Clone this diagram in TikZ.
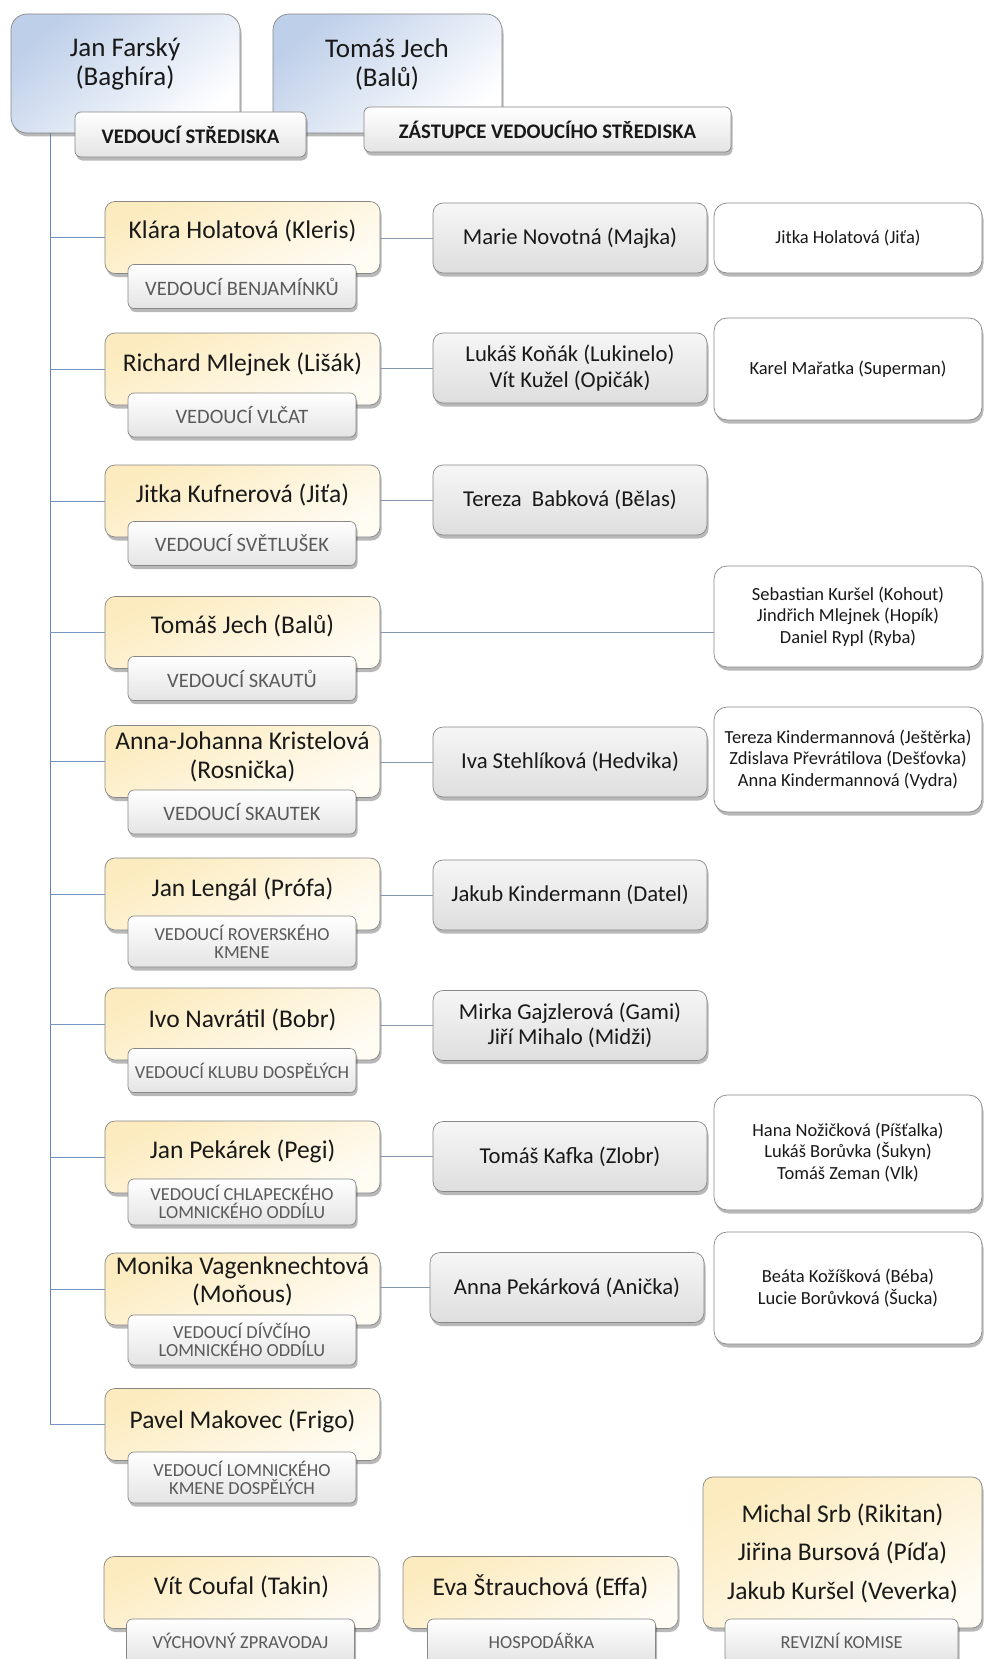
\documentclass[tikz,border=0pt]{standalone}
\usepackage{fontspec}
\setmainfont{Carlito}
\usetikzlibrary{shadows}
\definecolor{edgec}{RGB}{135,135,135}
\definecolor{yelltop}{RGB}{252,235,190}
\definecolor{yellbot}{RGB}{255,252,244}
\definecolor{graytop}{RGB}{246,246,246}
\definecolor{graybot}{RGB}{222,222,222}
\definecolor{lblbot}{RGB}{228,228,228}
\definecolor{lbltext}{RGB}{90,90,90}
\definecolor{bluetop}{RGB}{190,207,233}
\definecolor{treec}{RGB}{95,135,190}
\definecolor{branchc}{RGB}{120,150,195}
\definecolor{linkc}{RGB}{135,150,172}
\definecolor{nametext}{RGB}{25,25,25}
\newcommand\nmfont{\fontsize{25.5}{28.5}\selectfont}
\newcommand\gyfont{\fontsize{22.7}{25.5}\selectfont}
\newcommand\lbfont{\fontsize{18.4}{18}\selectfont}
\newcommand\lbbig{\fontsize{20.5}{20}\selectfont}
\newcommand\wfont{\fontsize{18.5}{21.5}\selectfont}
\newcommand\tlfont{\bfseries\fontsize{20.7}{22}\selectfont}
\newcommand\topfont{\fontsize{27}{29}\selectfont}
\begin{document}
\begin{tikzpicture}[x=1pt,y=-1pt,
  common/.style={draw=edgec, line width=0.7pt, inner sep=0pt, align=center,
    drop shadow={shadow xshift=1.5pt, shadow yshift=-3.5pt, opacity=0.28, fill=black}},
  ybox/.style={common, rounded corners=10pt, top color=yelltop, bottom color=yellbot,
    shading angle=25, minimum width=275pt, minimum height=72pt},
  lbl/.style={common, rounded corners=6pt, top color=white, bottom color=lblbot,
    minimum width=228pt, minimum height=44pt, font=\lbfont, text=lbltext},
  gbox/.style={common, rounded corners=10pt, top color=graytop, bottom color=graybot,
    minimum width=274pt, minimum height=70pt, font=\gyfont, text=nametext},
  wbox/.style={common, rounded corners=13pt, fill=white, minimum width=268pt,
    font=\wfont, text=nametext},
  bbox/.style={common, rounded corners=16pt, top color=bluetop, bottom color=white,
    shading angle=40, minimum width=229pt, minimum height=119pt},
  toplbl/.style={common, rounded corners=6pt, top color=white, bottom color=lblbot,
    minimum height=45pt, font=\tlfont, text=nametext},
  nm/.style={font=\nmfont, align=center, inner sep=0pt, text=nametext},
  tree/.style={draw=treec, line width=1pt},
  branch/.style={draw=branchc, line width=1pt},
  link/.style={draw=linkc, line width=1pt}]
\useasboundingbox (0,0) rectangle (984,1659);
\fill[white] (0,0) rectangle (984,1659);

% ---------- top ----------
\node[bbox] (farsky) at (125.5,73.5) {};
\node[bbox] (jech) at (387.5,73.5) {};
\node[nm, font=\topfont] (farskyt) at (125,64) {Jan Farský\\(Baghíra)};
\node[nm, font=\topfont] (jecht) at (387,64) {Tomáš Jech\\(Balů)};
\coordinate (trunkend) at (50,1424.5);
\draw[tree] (farsky.south -| trunkend) -- (trunkend);
\node[toplbl, minimum width=231pt] (vs) at (190.5,134.5) {VEDOUCÍ STŘEDISKA};
\node[toplbl, minimum width=367pt] (zvs) at (547.5,129.5) {ZÁSTUPCE VEDOUCÍHO STŘEDISKA};

% ---------- yellow leaders ----------
\node[ybox] (r1) at (242.5,237.5) {};
\node[ybox] (r2) at (242.5,369) {};
\node[ybox] (r3) at (242.5,501) {};
\node[ybox] (r4) at (242.5,632.5) {};
\node[ybox] (r5) at (242.5,761.5) {};
\node[ybox] (r6) at (242.5,894) {};
\node[ybox] (r7) at (242.5,1024) {};
\node[ybox] (r8) at (242.5,1157) {};
\node[ybox] (r9) at (242.5,1289) {};
\node[ybox] (r10) at (242.5,1424.5) {};

\node[nm] (r1t) at (242.5,231) {Klára Holatová (Kleris)};
\node[nm] (r2t) at (242.5,364) {Richard Mlejnek (Lišák)};
\node[nm] (r3t) at (242.5,495) {Jitka Kufnerová (Jiťa)};
\node[nm] (r4t) at (242.5,626) {Tomáš Jech (Balů)};
\node[nm] (r5t) at (242.5,757) {Anna-Johanna Kristelová\\(Rosnička)};
\node[nm] (r6t) at (242.5,889) {Jan Lengál (Prófa)};
\node[nm] (r7t) at (242.5,1020) {Ivo Navrátil (Bobr)};
\node[nm] (r8t) at (242.5,1151) {Jan Pekárek (Pegi)};
\node[nm] (r9t) at (242.5,1281.5) {Monika Vagenknechtová\\(Moňous)};
\node[nm] (r10t) at (242.5,1421) {Pavel Makovec (Frigo)};

\node[lbl, font=\lbbig] (r1l) at (242,286.5) {VEDOUCÍ BENJAMÍNKŮ};
\node[lbl, font=\lbbig] (r2l) at (242,415) {VEDOUCÍ VLČAT};
\node[lbl, font=\lbbig] (r3l) at (242,543.5) {VEDOUCÍ SVĚTLUŠEK};
\node[lbl, font=\lbbig] (r4l) at (242,678.5) {VEDOUCÍ SKAUTŮ};
\node[lbl, font=\lbbig] (r5l) at (242,812) {VEDOUCÍ SKAUTEK};
\node[lbl, minimum height=51pt] (r6l) at (242,941.5) {VEDOUCÍ ROVERSKÉHO\\KMENE};
\node[lbl] (r7l) at (242,1070.5) {VEDOUCÍ KLUBU DOSPĚLÝCH};
\node[lbl, minimum height=46pt] (r8l) at (242,1202) {VEDOUCÍ CHLAPECKÉHO\\LOMNICKÉHO ODDÍLU};
\node[lbl, minimum height=50pt] (r9l) at (242,1340) {VEDOUCÍ DÍVČÍHO\\LOMNICKÉHO ODDÍLU};
\node[lbl, minimum height=51pt] (r10l) at (242,1477.5) {VEDOUCÍ LOMNICKÉHO\\KMENE DOSPĚLÝCH};

% trunk branches
\foreach \r in {r1,r2,r3,r4,r5,r6,r7,r8,r9}
  \draw[branch] (trunkend |- \r.west) -- (\r.west);
\draw[branch] (trunkend) -- (r10.west);

% ---------- gray column ----------
\node[gbox] (g1) at (570,238) {Marie Novotná (Majka)};
\node[gbox] (g2) at (570,368) {Lukáš Koňák (Lukinelo)\\Vít Kužel (Opičák)};
\node[gbox] (g3) at (570,500) {Tereza\ \ Babková (Bělas)};
\node[gbox] (g5) at (570,762) {Iva Stehlíková (Hedvika)};
\node[gbox] (g6) at (570,895) {Jakub Kindermann (Datel)};
\node[gbox] (g7) at (570,1025.5) {Mirka Gajzlerová (Gami)\\Jiří Mihalo (Midži)};
\node[gbox] (g8) at (570,1156.5) {Tomáš Kafka (Zlobr)};
\node[gbox] (g9) at (567,1287.5) {Anna Pekárková (Anička)};

% ---------- white column ----------
\node[wbox, minimum height=70pt] (w1) at (848,238) {Jitka Holatová (Jiťa)};
\node[wbox, minimum height=102pt] (w2) at (848,369) {Karel Mařatka (Superman)};
\node[wbox, minimum height=101pt] (w4) at (848,616.5) {Sebastian Kuršel (Kohout)\\Jindřich Mlejnek (Hopík)\\Daniel Rypl (Ryba)};
\node[wbox, minimum height=105pt] (w5) at (848,759.5) {Tereza Kindermannová (Ještěrka)\\Zdislava Převrátilova (Dešťovka)\\Anna Kindermannová (Vydra)};
\node[wbox, minimum height=115pt] (w8) at (848,1152.5) {Hana Nožičková (Píšťalka)\\Lukáš Borůvka (Šukyn)\\Tomáš Zeman (Vlk)};
\node[wbox, minimum height=112pt] (w9) at (848,1288) {Beáta Kožíšková (Béba)\\Lucie Borůvková (Šucka)};

% links
\foreach \r/\g in {r1/g1,r2/g2,r3/g3,r5/g5,r6/g6,r7/g7,r8/g8,r9/g9}
  \draw[link] (\g.west -| \r.east) -- (\g.west);
\draw[link] (r4.east) -- (r4.east -| w4.west);

% ---------- bottom row ----------
\node[ybox] (b1) at (241.5,1592.5) {};
\node[ybox] (b2) at (540.5,1592.5) {};
\node[ybox, minimum width=279pt, minimum height=151pt] (b3) at (842.5,1552.5) {};
\node[nm] (b1t) at (241.5,1587) {Vít Coufal (Takin)};
\node[nm] (b2t) at (540.5,1587) {Eva Štrauchová (Effa)};
\node[nm, font=\fontsize{25.5}{38.5}\selectfont] (b3t) at (842.5,1553) {Michal Srb (Rikitan)\\Jiřina Bursová (Píďa)\\Jakub Kuršel (Veverka)};
\node[lbl] (b1l) at (240.5,1641) {VÝCHOVNÝ ZPRAVODAJ};
\node[lbl] (b2l) at (541.5,1641) {HOSPODÁŘKA};
\node[lbl, minimum width=233pt] (b3l) at (841.5,1641) {REVIZNÍ KOMISE};
\end{tikzpicture}
\end{document}
